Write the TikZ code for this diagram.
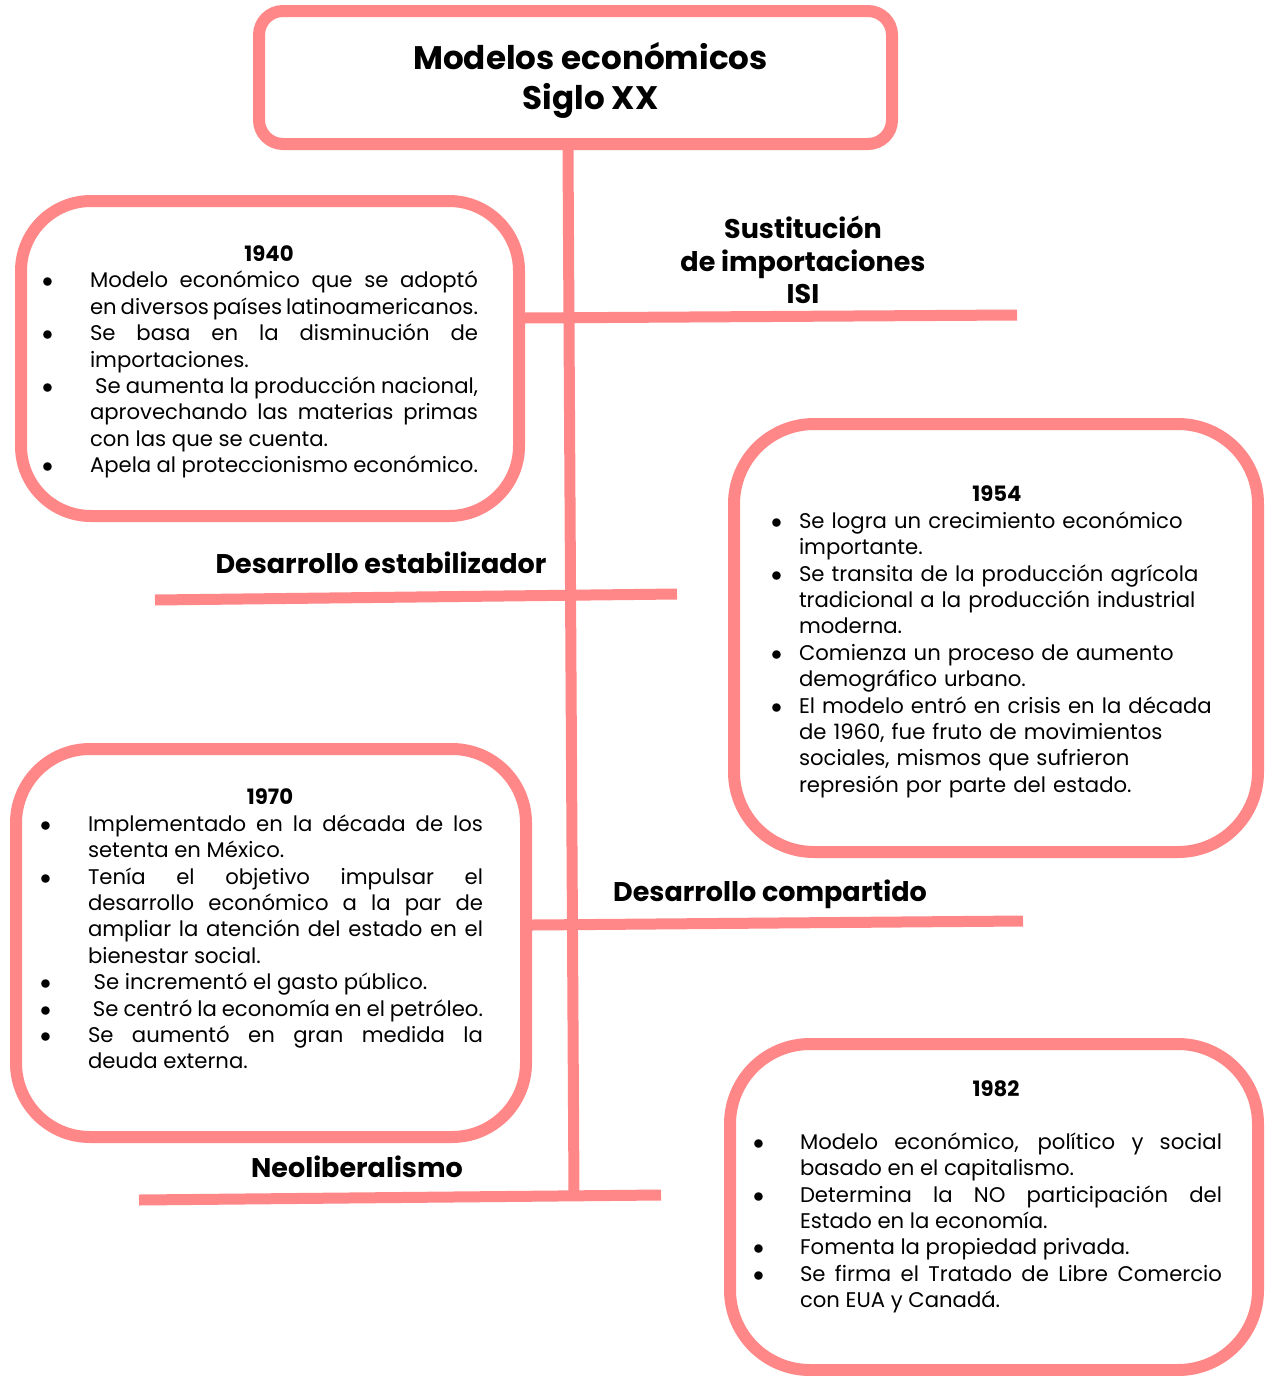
\documentclass[tikz,border=0pt]{standalone}
\usepackage{fontspec}
\setmainfont{Poppins}
\usepackage{enumitem}
\usetikzlibrary{positioning}
\definecolor{rosa}{RGB}{255,135,135}
\setlength{\parindent}{0pt}
\tolerance=10000
\hbadness=10000
\newlist{puntos}{itemize}{1}
\setlist[puntos]{label=$\bullet$, leftmargin=24pt, labelindent=0pt, labelsep=0pt, labelwidth=24pt, align=left, itemsep=0pt, topsep=0pt, parsep=0pt, partopsep=0pt}

\begin{document}
\begin{tikzpicture}[x=0.5pt,y=-0.5pt]
 	\tikzstyle{caja}=[rectangle, draw=rosa, line width=6pt, fill=white]
 	\tikzstyle{rama}=[draw=rosa, line width=5.5pt]
 	\tikzstyle{etiqueta}=[font=\fontsize{13.5}{16.25}\selectfont\bfseries, align=center, inner sep=0pt]
 	\tikzstyle{texto}=[font=\fontsize{10.6}{13.2}\selectfont, inner sep=0pt]
 	\clip (0,0) rectangle (1264,1376);
 	\coordinate (isi) at (1017,315);
 	\coordinate (est0) at (155,600);
 	\coordinate (est1) at (677,594);
 	\coordinate (com) at (1023,921);
 	\coordinate (neo0) at (139,1200);
 	\coordinate (neo1) at (661,1195);
 	\coordinate (pie) at (574,1196);
 	\node[caja, rounded corners=12pt, minimum width=316.5pt, minimum height=66.5pt] (titulo) at (575.5,77.5) {};
 	\node[caja, rounded corners=35pt, minimum width=249pt, minimum height=157.5pt] (caja1940) at (270,358.5) {};
 	\node[caja, rounded corners=40pt, minimum width=262pt, minimum height=214pt] (caja1954) at (996,638) {};
 	\node[caja, rounded corners=37pt, minimum width=255pt, minimum height=194pt] (caja1970) at (271,943) {};
 	\node[caja, rounded corners=40pt, minimum width=264pt, minimum height=163pt] (caja1982) at (994,1207) {};
 	\path (titulo.south) ++(-3.75pt,0) coordinate (raiz);
 	\draw[rama] (raiz) -- (pie);
 	\draw[rama] ([yshift=20.25pt]caja1940.east) -- (isi);
 	\draw[rama] (est0) -- (est1);
 	\draw[rama] ([yshift=9pt]caja1970.east) -- (com);
 	\draw[rama] (neo0) -- (neo1);
 	\node[etiqueta, font=\fontsize{16.3}{20}\selectfont\bfseries] (tituloTxt) at ([xshift=7.5pt,yshift=-1.5pt]titulo.center) {Modelos económicos\\Siglo XX};
 	\node[etiqueta] (lblISI) at (803,260) {Sustitución\\de importaciones\\ISI};
 	\node[etiqueta] (lblEst) at (381,563) {Desarrollo estabilizador};
 	\node[etiqueta] (lblCom) at (770,894) {Desarrollo compartido};
 	\node[etiqueta] (lblNeo) at (357,1167) {Neoliberalismo};
 	\node[texto, text width=218pt, align=justify] (txt1940) at (260,362) {
 		{\centering\bfseries\hspace*{9pt}1940\par}
 		\begin{puntos}
 		\item Modelo económico que se adoptó\linebreak en diversos países latinoamericanos.
 		\item Se basa en la disminución de\linebreak importaciones.
 		\item \ Se aumenta la producción nacional,\linebreak aprovechando las materias primas\linebreak con las que se cuenta.
 		\item Apela al proteccionismo económico.
 		\end{puntos}};
 	\node[texto, text width=232pt, align=left] (txt1954) at (1003,642) {
 		{\centering\bfseries\hspace*{-6pt}1954\par}
 		\begin{puntos}[leftmargin=14pt, labelwidth=14pt]
 		\item Se logra un crecimiento económico\newline importante.
 		\item Se transita de la producción agrícola\newline tradicional a la producción industrial\newline moderna.
 		\item Comienza un proceso de aumento\newline demográfico urbano.
 		\item El modelo entró en crisis en la década\newline de 1960, fue fruto de movimientos\newline sociales, mismos que sufrieron\newline represión por parte del estado.
 		\end{puntos}};
 	\node[texto, text width=221.5pt, align=justify] (txt1970) at (261.5,929) {
 		{\centering\bfseries\hspace*{8.5pt}1970\par}
 		\begin{puntos}
 		\item Implementado en la década de los\linebreak setenta en México.
 		\item Tenía el objetivo impulsar el\linebreak desarrollo económico a la par de\linebreak ampliar la atención del estado en el\linebreak bienestar social.
 		\item \ Se incrementó el gasto público.
 		\item \ Se centró la economía en el petróleo.
 		\item Se aumentó en gran medida la\linebreak deuda externa.
 		\end{puntos}};
 	\node[texto, text width=234.5pt, align=justify] (txt1982) at (987.5,1197) {
 		{\centering\bfseries\hspace*{8.5pt}1982\par}
 		\vspace{13.2pt}
 		\begin{puntos}[leftmargin=23.5pt, labelwidth=23.5pt]
 		\item Modelo económico, político y social\linebreak basado en el capitalismo.
 		\item Determina la NO participación del\linebreak Estado en la economía.
 		\item Fomenta la propiedad privada.
 		\item Se firma el Tratado de Libre Comercio\linebreak con EUA y Canadá.
 		\end{puntos}};
\end{tikzpicture}
\end{document}
